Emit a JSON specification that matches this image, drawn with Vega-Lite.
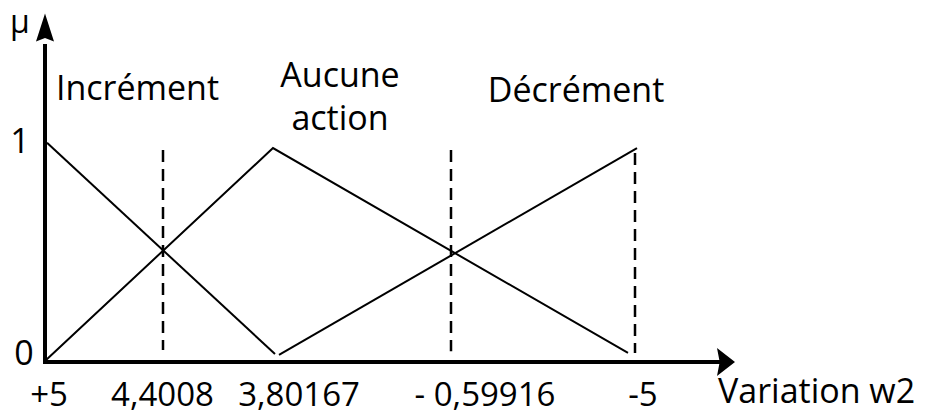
{
  "$schema": "https://vega.github.io/schema/vega-lite/v6.json",
  "width": 690,
  "height": 349,
  "autosize": {"type": "none"},
  "padding": {"left": 45, "top": 13, "right": 197, "bottom": 54},
  "background": "white",
  "config": {"view": {"stroke": null}, "text": {"font": "Open Sans", "fontSize": 34, "color": "black"}},
  "datasets": {
    "mf": [
      {"set": "Incrément", "i": 0, "pos": 2, "mu": 1.02},
      {"set": "Incrément", "i": 1, "pos": 230, "mu": 0.037},
      {"set": "Aucune action", "i": 0, "pos": 0, "mu": 0.005},
      {"set": "Aucune action", "i": 1, "pos": 228, "mu": 0.995},
      {"set": "Aucune action", "i": 2, "pos": 583, "mu": 0.042},
      {"set": "Décrément", "i": 0, "pos": 234, "mu": 0.033},
      {"set": "Décrément", "i": 1, "pos": 592, "mu": 0.995}
    ],
    "guides": [
      {"pos": 118, "top": 0.986, "bottom": 0.056},
      {"pos": 406, "top": 0.986, "bottom": 0.05},
      {"pos": 590, "top": 0.972, "bottom": 0.042}
    ],
    "axes": [
      {"axis": "x", "pos": 0, "pos2": 676, "mu": 0, "mu2": 0},
      {"axis": "y", "pos": 0, "pos2": 0, "mu": 0, "mu2": 1.47}
    ],
    "ticks": [
      {"label": "+5", "pos": 4, "mu": -0.2047},
      {"label": "4,4008", "pos": 117.5, "mu": -0.2047},
      {"label": "3,80167", "pos": 254, "mu": -0.2047},
      {"label": "- 0,59916", "pos": 440, "mu": -0.2047},
      {"label": "-5", "pos": 598, "mu": -0.2047}
    ],
    "names": [
      {"label": "Incrément", "pos": 92.5, "mu": 1.219},
      {"label": "Aucune", "pos": 295, "mu": 1.279},
      {"label": "action", "pos": 295, "mu": 1.079},
      {"label": "Décrément", "pos": 531, "mu": 1.209}
    ],
    "ylabels": [
      {"label": "1", "pos": -25, "mu": 0.972},
      {"label": "0", "pos": -21, "mu": -0.014}
    ]
  },
  "encoding": {
    "x": {"field": "pos", "type": "quantitative", "scale": {"domain": [0, 690], "nice": false, "zero": false}, "axis": null},
    "y": {"field": "mu", "type": "quantitative", "scale": {"domain": [0, 1.6233], "nice": false, "zero": false}, "axis": null}
  },
  "layer": [
    {
      "data": {"name": "guides"},
      "mark": {"type": "rule", "color": "black", "strokeWidth": 2.5, "strokeDash": [12, 7]},
      "encoding": {
        "y": {"field": "top", "type": "quantitative"},
        "y2": {"field": "bottom"}
      }
    },
    {
      "data": {"name": "mf"},
      "mark": {"type": "line", "color": "black", "strokeWidth": 2},
      "encoding": {
        "detail": {"field": "set"},
        "order": {"field": "i", "type": "quantitative"}
      }
    },
    {
      "data": {"name": "axes"},
      "mark": {"type": "rule", "color": "black", "strokeWidth": 4, "strokeCap": "square"},
      "encoding": {
        "x2": {"field": "pos2"},
        "y2": {"field": "mu2"}
      }
    },
    {
      "data": {"values": [{"pos": 681, "mu": 0}]},
      "mark": {"type": "point", "filled": true, "fill": "black", "stroke": null, "opacity": 1, "size": 784, "shape": "M0.643,0L-0.643,-1L-0.45,0L-0.643,1Z"}
    },
    {
      "data": {"values": [{"pos": 0, "mu": 1.556}]},
      "mark": {"type": "point", "filled": true, "fill": "black", "stroke": null, "opacity": 1, "size": 784, "shape": "M0,-1L0.643,1L0,0.75L-0.643,1Z"}
    },
    {
      "data": {"name": "ticks"},
      "mark": {"type": "text", "align": "center", "baseline": "alphabetic", "fontSize": 33},
      "encoding": {"text": {"field": "label"}}
    },
    {
      "data": {"values": [{"label": "Variation w2", "pos": 673, "mu": -0.191}]},
      "mark": {"type": "text", "align": "left", "baseline": "alphabetic"},
      "encoding": {"text": {"field": "label"}}
    },
    {
      "data": {"name": "names"},
      "mark": {"type": "text", "align": "center", "baseline": "alphabetic"},
      "encoding": {"text": {"field": "label"}}
    },
    {
      "data": {"name": "ylabels"},
      "mark": {"type": "text", "align": "center", "baseline": "alphabetic"},
      "encoding": {"text": {"field": "label"}}
    },
    {
      "data": {"values": [{"label": "μ", "pos": -25, "mu": 1.53}]},
      "mark": {"type": "text", "align": "center", "baseline": "alphabetic", "fontSize": 32},
      "encoding": {"text": {"field": "label"}}
    }
  ]
}
